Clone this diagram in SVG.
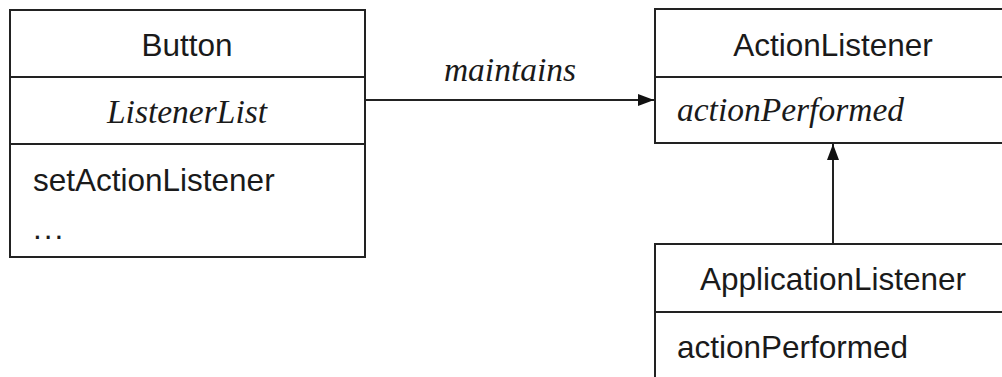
<svg xmlns="http://www.w3.org/2000/svg" width="1002" height="377" viewBox="0 0 1002 377">
<style>
.box{fill:#fff;stroke:#222;stroke-width:2}
.ln{stroke:#222;stroke-width:2;fill:none}
.s{font-family:"Liberation Sans",Arial,sans-serif;font-size:31.5px;fill:#1a1a1a}
.i{font-family:"Liberation Serif","Times New Roman",serif;font-style:italic;font-size:33.5px;fill:#1a1a1a}
</style>
<defs>
<marker id="ah" markerWidth="16" markerHeight="12" refX="16" refY="6" orient="auto" markerUnits="userSpaceOnUse">
<path d="M0,0 L16,6 L0,12 Z" fill="#111"/>
</marker>
</defs>
<rect width="1002" height="377" fill="#fff"/>
<g id="button">
<rect class="box" x="10" y="10" width="355" height="247"/>
<line class="ln" x1="10" y1="77" x2="365" y2="77"/>
<line class="ln" x1="10" y1="144" x2="365" y2="144"/>
<text class="s" x="187" y="56" text-anchor="middle">Button</text>
<text class="i" x="187" y="123" text-anchor="middle">ListenerList</text>
<text class="s" x="33" y="191">setActionListener</text>
<text class="s" x="33" y="239" letter-spacing="2">...</text>
</g>
<g id="actionlistener">
<rect class="box" x="655" y="9" width="360" height="134"/>
<line class="ln" x1="655" y1="77" x2="1002" y2="77"/>
<text class="s" x="833" y="56" text-anchor="middle">ActionListener</text>
<text class="i" x="677" y="121">actionPerformed</text>
</g>
<g id="applicationlistener">
<rect class="box" x="655" y="244" width="360" height="150"/>
<line class="ln" x1="655" y1="312" x2="1002" y2="312"/>
<text class="s" x="833" y="290" text-anchor="middle">ApplicationListener</text>
<text class="s" x="677" y="358">actionPerformed</text>
</g>
<g id="connectors">
<line class="ln" x1="365" y1="100" x2="654" y2="100" marker-end="url(#ah)"/>
<text class="i" x="510" y="81" text-anchor="middle">maintains</text>
<line class="ln" x1="833" y1="244" x2="833" y2="144" marker-end="url(#ah)"/>
</g>
</svg>
